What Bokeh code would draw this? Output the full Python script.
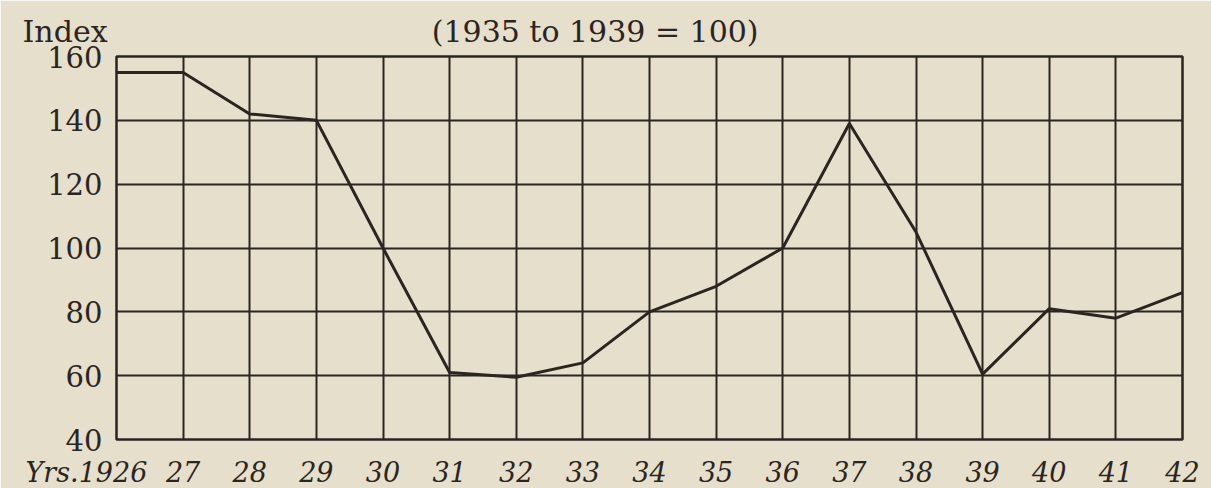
from bokeh.plotting import figure
from bokeh.models import FixedTicker, Title
from bokeh.embed import file_html
from bokeh.resources import INLINE

years = [1926, 1927, 1928, 1929, 1930, 1931, 1932, 1933, 1934, 1935, 1936,
         1937, 1938, 1939, 1940, 1941, 1942]
index_values = [155, 155, 142, 140, 100, 61, 59.5, 64, 80, 88, 100,
                139, 105, 60.5, 81, 78, 86]
x_tick_labels = ["1926", "27", "28", "29", "30", "31", "32", "33", "34", "35",
                 "36", "37", "38", "39", "40", "41", "42"]
y_ticks = [40, 60, 80, 100, 120, 140, 160]
y_axis_name = "Index"
base_note = "(1935 to 1939 = 100)"
x_axis_name = "Yrs."

INK = "#2b2522"
PAPER = "#e5dfcb"
FONT = "DejaVu Serif"
NBSP = "\u00a0"

p = figure(frame_width=1066, frame_height=383, output_backend="svg",
           toolbar_location=None,
           x_range=(1926, 1942), y_range=(40, 160),
           min_border_left=116, min_border_right=29, min_border_top=56,
           min_border_bottom=49)
p.background_fill_color = PAPER
p.border_fill_color = PAPER
p.outline_line_color = INK
p.outline_line_width = 2.5

labels = list(x_tick_labels)
labels[0] = x_axis_name + labels[0] + NBSP * 7
p.xaxis.ticker = FixedTicker(ticks=years)
p.yaxis.ticker = FixedTicker(ticks=y_ticks)
p.xaxis.major_label_overrides = {y: l for y, l in zip(years, labels)}
for ax in (p.xaxis, p.yaxis):
    ax.axis_line_color = None
    ax.major_tick_line_color = None
    ax.minor_tick_line_color = None
    ax.major_label_text_color = INK
    ax.major_label_text_font = FONT
p.yaxis.major_label_text_font_size = "29px"
p.yaxis.major_label_standoff = 8
p.xaxis.major_label_text_font_size = "27px"
p.xaxis.major_label_text_font_style = "italic"
p.xaxis.major_label_standoff = 11

p.xgrid.ticker = FixedTicker(ticks=years)
p.ygrid.ticker = FixedTicker(ticks=y_ticks)
for g in (p.xgrid, p.ygrid):
    g.grid_line_color = INK
    g.grid_line_width = 2
    g.grid_line_alpha = 1.0

p.line(years, index_values, line_color=INK, line_width=3)

header = Title(text=y_axis_name + NBSP * 34 + base_note, align="left",
               offset=-94, text_font=FONT, text_font_size="30px",
               text_font_style="normal", text_color=INK, standoff=16)
p.add_layout(header, "above")

open("out.html", "w").write(file_html(p, INLINE))
